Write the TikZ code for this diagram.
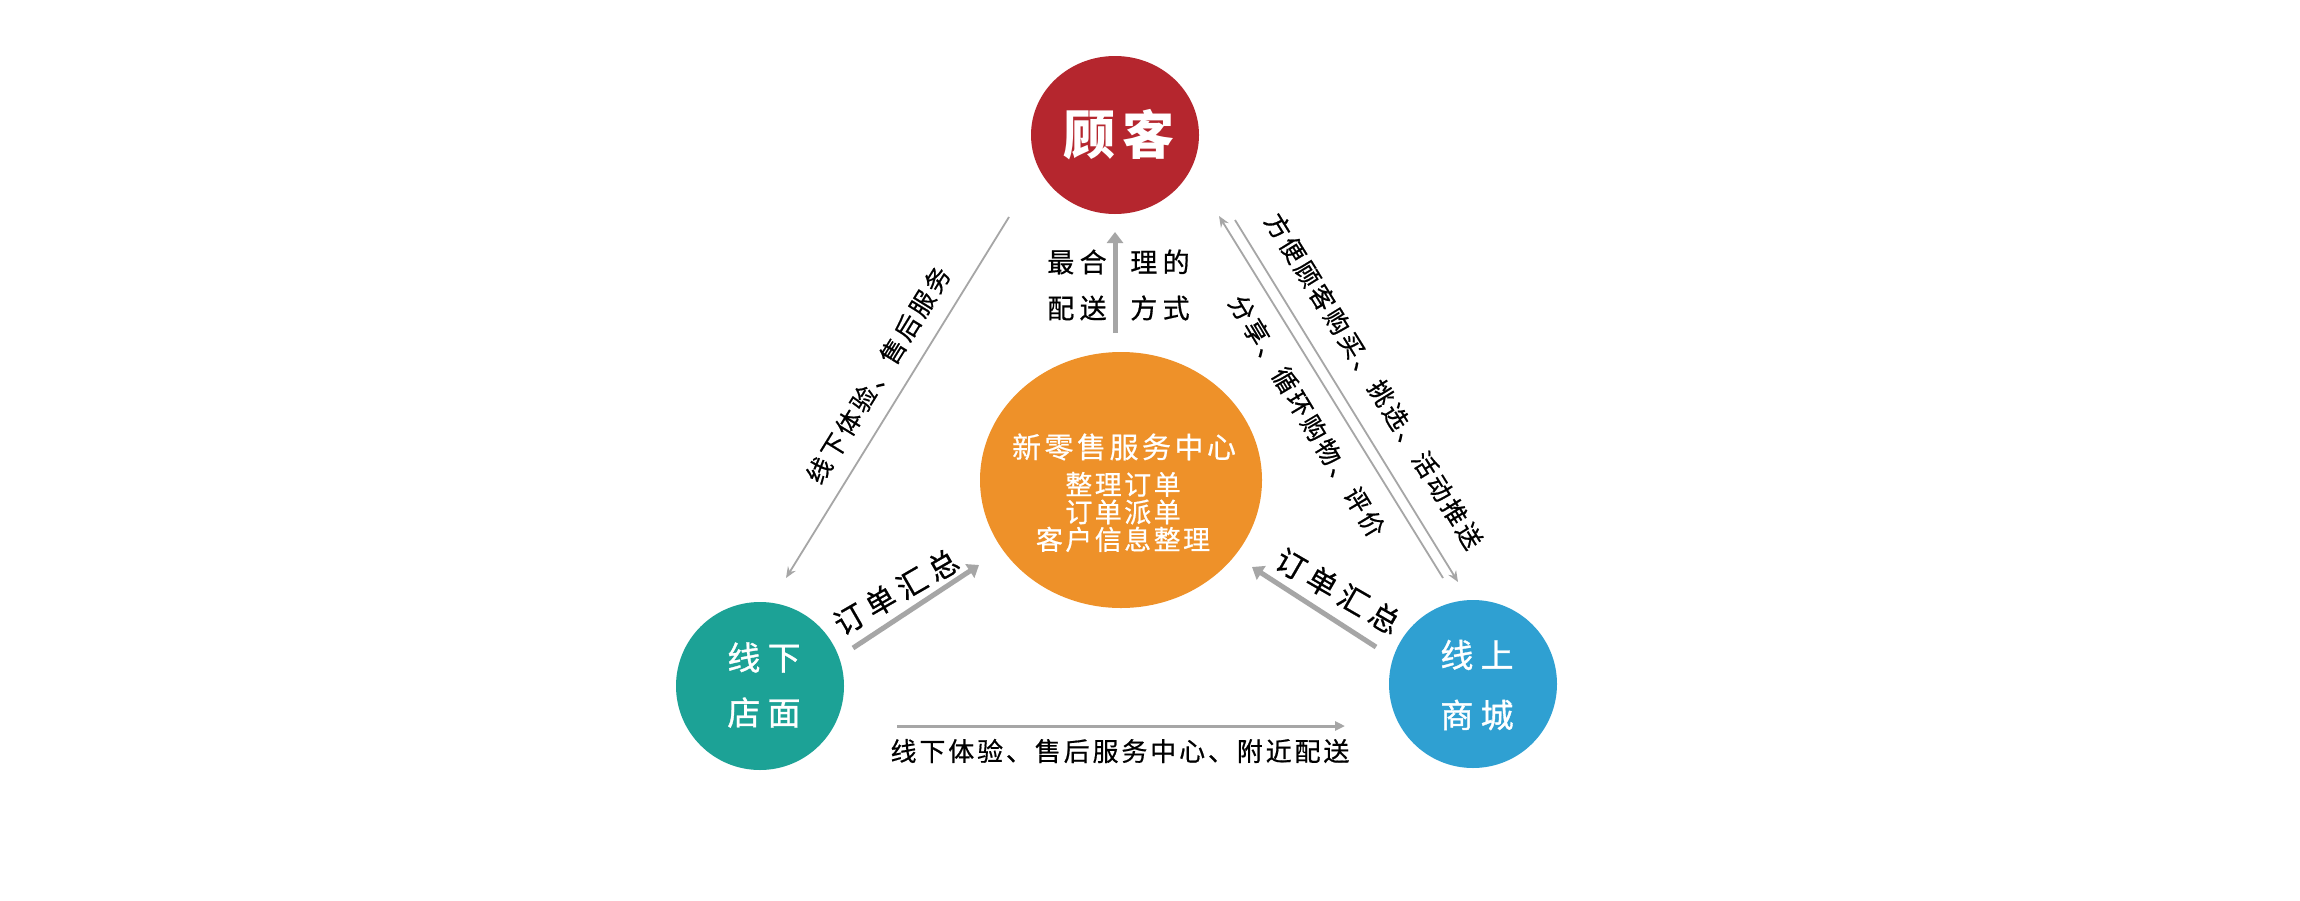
\documentclass[tikz,border=0pt]{standalone}
\usepackage{fontspec}
\setmainfont{Noto Sans CJK SC}
\newfontfamily\fGK{Noto Sans CJK SC}[LetterSpace=14]
\newfontfamily\fTitle{Noto Sans CJK SC}[LetterSpace=12,FakeBold=0.6]
\newfontfamily\fLine{Noto Sans CJK SC}[LetterSpace=9,FakeBold=0.6]
\newfontfamily\fCirc{Noto Sans CJK SC}[LetterSpace=22,FakeBold=1]
\newfontfamily\fMid{Noto Sans CJK SC}[LetterSpace=20,FakeBold=0.6]
\newfontfamily\fDiag{Noto Sans CJK SC}[LetterSpace=12,FakeBold=0.6]
\newfontfamily\fBot{Noto Sans CJK SC}[LetterSpace=11,FakeBold=0.6]
\newfontfamily\fSum{Noto Sans CJK SC}[LetterSpace=20,FakeBold=0.6]
\usetikzlibrary{shapes.geometric,arrows.meta}
\definecolor{cred}{HTML}{B5262E}
\definecolor{corange}{HTML}{EE9129}
\definecolor{cgreen}{HTML}{1CA296}
\definecolor{cblue}{HTML}{2FA0D2}
\definecolor{cgray}{HTML}{A6A6A6}
\tikzset{
  blob/.style={ellipse, inner sep=0pt, draw=none},
  thinarrow/.style={cgray, line width=1.8pt, -{Stealth[length=11pt,width=9pt]}},
  thickarrow/.style={cgray, line width=5pt, -{Triangle[length=11pt,width=16pt]}},
  midarrow/.style={cgray, line width=3pt, -{Triangle[length=10pt,width=9pt]}},
  lbl/.style={inner sep=0pt, text=black},
  wlbl/.style={inner sep=0pt, text=white, align=center},
}
\begin{document}
\begin{tikzpicture}[x=1pt,y=-1pt]
\useasboundingbox[fill=white] (0,0) rectangle (2300,900);

% main shapes
\node[blob, fill=cred, minimum width=168pt, minimum height=158pt] (gk) at (1115,135) {};
\node[blob, fill=corange, minimum width=282pt, minimum height=256pt] (ctr) at (1121,480) {};
\node[blob, fill=cgreen, minimum width=168pt, minimum height=168pt] (xx) at (760,686) {};
\node[blob, fill=cblue, minimum width=168pt, minimum height=168pt] (xs) at (1473,684) {};

% texts inside shapes
\node[wlbl, font={\fGK\bfseries\fontsize{52}{60}\selectfont}] (gkt) at (1119,135) {顾客};
\node[wlbl, font={\fTitle\fontsize{29}{30}\selectfont}] (ct1) at (1124,447) {新零售服务中心};
\node[wlbl, font={\fLine\fontsize{27}{27.5}\selectfont}] (ct2) at (1123,512) {整理订单\\订单派单\\客户信息整理};
\node[wlbl, font={\fCirc\fontsize{33}{55}\selectfont}] (xxt) at (764,685) {线下\\店面};
\node[wlbl, font={\fCirc\fontsize{33}{60}\selectfont}] (xst) at (1477,685) {线上\\商城};

% named end points
\coordinate (a1s) at (1115,333); \coordinate (a1e) at (1115,232);
\coordinate (a2s) at (1009,217); \coordinate (a2e) at (786,578);
\coordinate (a3s) at (1443,578); \coordinate (a3e) at (1219,216);
\coordinate (a4s) at (1235,220); \coordinate (a4e) at (1458,582);
\coordinate (a5s) at (853,648);  \coordinate (a5e) at (979,565);
\coordinate (a6s) at (1376,647); \coordinate (a6e) at (1252,567);
\coordinate (a7s) at (897,726);  \coordinate (a7e) at (1345,726);

% connectors
\draw[thickarrow] (a1s) -- (a1e);
\draw[thinarrow] (a2s) -- (a2e);
\draw[thinarrow] (a3s) -- (a3e);
\draw[thinarrow] (a4s) -- (a4e);
\draw[thickarrow] (a5s) -- (a5e);
\draw[thickarrow] (a6s) -- (a6e);
\draw[midarrow] (a7s) -- (a7e);

% labels
\node[lbl, align=center, font={\fMid\fontsize{27}{46}\selectfont}] (l1a) at (1077,285) {最合\\配送};
\node[lbl, align=center, font={\fMid\fontsize{27}{46}\selectfont}] (l1b) at (1160,285) {理的\\方式};
\node[lbl, rotate=58.3, font={\fDiag\fontsize{25}{28}\selectfont}] (l2) at (878,375) {线下体验、售后服务};
\node[lbl, rotate=-58.3, font={\fDiag\fontsize{25}{28}\selectfont}] (l3) at (1374,381) {方便顾客购买、挑选、活动推送};
\node[lbl, rotate=-59, font={\fDiag\fontsize{25}{28}\selectfont}] (l4) at (1307,416) {分享、循环购物、评价};
\node[lbl, rotate=30, font={\fSum\fontsize{30}{32}\selectfont}] (l5) at (896,592) {订单汇总};
\node[lbl, rotate=-30, font={\fSum\fontsize{30}{32}\selectfont}] (l6) at (1338,591) {订单汇总};
\node[lbl, font={\fBot\fontsize{26}{28}\selectfont}] (l7) at (1120,751) {线下体验、售后服务中心、附近配送};
\end{tikzpicture}
\end{document}
